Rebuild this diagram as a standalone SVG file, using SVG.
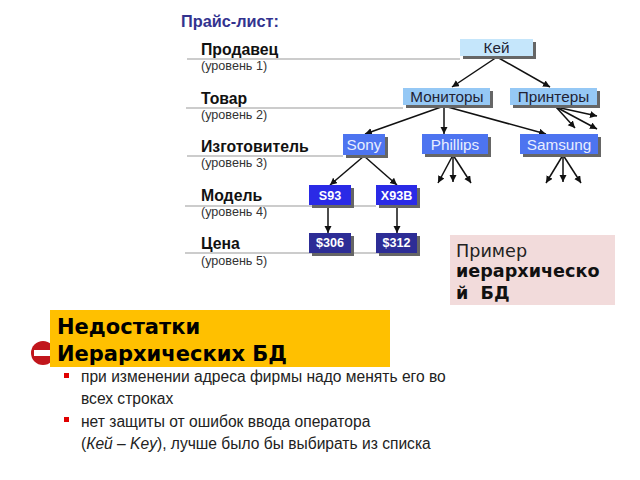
<svg xmlns="http://www.w3.org/2000/svg" width="640" height="480" viewBox="0 0 640 480">
<style>
text{font-family:"Liberation Sans",Arial,sans-serif}
.lvl{font-size:15.8px;font-weight:bold;fill:#111}
.sub{font-size:12.6px;fill:#333}
.rule{stroke:#999;stroke-width:1.2;fill:none}
.con{stroke:#111;stroke-width:1.5;fill:none;marker-end:url(#a)}
.sh{fill:#666}
.n{font-size:15.3px;text-anchor:middle}
.m{font-size:12.6px;font-weight:bold;fill:#fff;text-anchor:middle}
.dv{font-family:"DejaVu Sans",sans-serif}
.li{font-size:15.6px;fill:#222}
</style>
<defs><marker id="a" markerUnits="userSpaceOnUse" markerWidth="8" markerHeight="8" refX="7" refY="3.5" orient="auto"><path d="M0 0L7 3.5L0 7Z" fill="#111"/></marker></defs>
<rect width="640" height="480" fill="#fff"/>
<text x="181" y="27" font-size="16.3" font-weight="bold" fill="#33338f">Прайс-лист:</text>
<g id="levels">
<path class="rule" d="M187 59H460M186 108H403M187 156H343M185 206H376M185 253H400"/>
<text class="lvl" x="201" y="55">Продавец</text><text class="sub" x="201" y="70">(уровень 1)</text>
<text class="lvl" x="201" y="104">Товар</text><text class="sub" x="201" y="119">(уровень 2)</text>
<text class="lvl" x="201" y="152">Изготовитель</text><text class="sub" x="201" y="167">(уровень 3)</text>
<text class="lvl" x="201" y="201">Модель</text><text class="sub" x="201" y="216">(уровень 4)</text>
<text class="lvl" x="201" y="249">Цена</text><text class="sub" x="201" y="265">(уровень 5)</text>
</g>
<g id="connectors">
<path class="con" d="M497 57L452 87"/><path class="con" d="M497 57L550 87"/>
<path class="con" d="M444 106L365 134"/><path class="con" d="M444 106L444 134"/><path class="con" d="M444 106L546 134"/>
<path class="con" d="M556 107L575 128"/><path class="con" d="M556 107L597 129"/><path class="con" d="M556 107L597 116"/>
<path class="con" d="M364 156L330 185"/><path class="con" d="M364 156L397 185"/>
<path class="con" d="M328 206V233"/><path class="con" d="M397 206V233"/>
<path class="con" d="M453 155L438 183"/><path class="con" d="M453 155V182"/><path class="con" d="M453 155L471 183"/>
<path class="con" d="M563 155L546 183"/><path class="con" d="M563 155V182"/><path class="con" d="M563 155L581 183"/>
</g>
<g id="node-key"><rect class="sh" x="463" y="42" width="73" height="17"/><rect x="460" y="39" width="73" height="17" fill="#c5e6fb"/><text class="n" x="496.500" y="53" fill="#223">Кей</text></g>
<g id="node-monitors"><rect class="sh" x="406" y="91" width="87" height="17"/><rect x="403" y="88" width="87" height="17" fill="#95c8f5"/><text class="n" x="447" y="102" fill="#223">Мониторы</text></g>
<g id="node-printers"><rect class="sh" x="513" y="91" width="87" height="17"/><rect x="510" y="88" width="87" height="17" fill="#95c8f5"/><text class="n" x="553.500" y="102" fill="#223">Принтеры</text></g>
<g id="node-sony"><rect class="sh" x="346" y="137" width="42" height="21"/><rect x="343" y="134" width="42" height="21" fill="#4d74f0"/><text class="n" x="364" y="150" fill="#e8eeff">Sony</text></g>
<g id="node-phillips"><rect class="sh" x="425" y="137" width="66" height="20"/><rect x="422" y="134" width="66" height="20" fill="#4d74f0"/><text class="n" x="455" y="150" fill="#e8eeff">Phillips</text></g>
<g id="node-samsung"><rect class="sh" x="523" y="137" width="78" height="20"/><rect x="520" y="134" width="78" height="20" fill="#4d74f0"/><text class="n" x="559" y="150" fill="#e8eeff">Samsung</text></g>
<g id="node-s93"><rect class="sh" x="312" y="188" width="42" height="20"/><rect x="309" y="185" width="42" height="20" fill="#2a2ae6"/><text class="m" x="330" y="200">S93</text></g>
<g id="node-x93b"><rect class="sh" x="379" y="188" width="41" height="20"/><rect x="376" y="185" width="41" height="20" fill="#2a2ae6"/><text class="m" x="396.500" y="200">X93B</text></g>
<g id="node-306"><rect class="sh" x="312" y="236" width="42" height="20"/><rect x="309" y="233" width="42" height="20" fill="#2d2d96"/><text class="m" x="330" y="247">$306</text></g>
<g id="node-312"><rect class="sh" x="379" y="236" width="41" height="20"/><rect x="376" y="233" width="41" height="20" fill="#2d2d96"/><text class="m" x="396.500" y="247">$312</text></g>
<g id="note"><rect x="450" y="235" width="165" height="70" fill="#f2dbdb"/>
<text class="dv" x="456" y="257" font-size="17.6" fill="#222">Пример</text>
<text class="dv" x="456" y="277" font-size="17.6" font-weight="bold" fill="#111">иерархическо</text>
<text class="dv" x="456" y="299" font-size="17.6" font-weight="bold" fill="#111" xml:space="preserve">й  БД</text></g>
<g id="stop"><circle cx="43" cy="353" r="12" fill="#c1161c"/><rect x="34" y="350" width="18" height="6" fill="#fff"/></g>
<g id="title"><rect x="50" y="310" width="340" height="57" fill="#ffc000"/>
<text class="dv" x="57" y="334" font-size="21" font-weight="bold" fill="#000">Недостатки</text>
<text class="dv" x="57" y="361" font-size="21" font-weight="bold" fill="#000">Иерархических БД</text></g>
<g id="list">
<rect x="64" y="373" width="5" height="5" fill="#e00000"/><rect x="64" y="417" width="5" height="5" fill="#e00000"/>
<text class="li" x="81" y="382">при изменении адреса фирмы надо менять его во</text>
<text class="li" x="81" y="404">всех строках</text>
<text class="li" x="81" y="427">нет защиты от ошибок ввода оператора</text>
<text class="li" x="81" y="449">(<tspan font-style="italic">Кей – Key</tspan>), лучше было бы выбирать из списка</text>
</g>
</svg>
